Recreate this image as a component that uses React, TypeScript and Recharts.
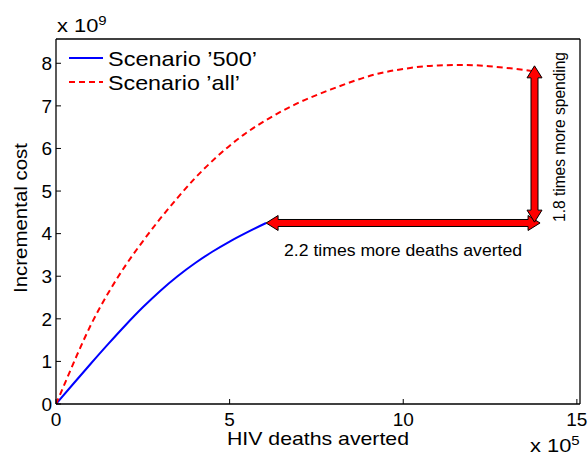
import { LineChart, Line, XAxis, YAxis, Legend, ReferenceLine } from "recharts";

// HIV deaths averted (x 10^5) vs incremental cost (x 10^9)
const x500 = [0, 0.5, 1.0, 1.5, 2.0, 2.5, 3.0, 3.5, 4.0, 4.5, 5.0, 5.5, 6.05];
const cost500 = [0, 0.475, 0.945, 1.405, 1.85, 2.27, 2.655, 3.0, 3.305, 3.575, 3.815, 4.03, 4.25];

const xAll = [0, 0.3, 0.6, 1.0, 1.5, 2.0, 2.5, 3.0, 3.5, 4.0, 4.6, 5.4, 6.1, 6.9, 7.9, 9.3, 10.2, 11.0, 11.8, 12.6, 13.7];
const costAll = [0, 0.57, 1.14, 1.85, 2.6, 3.25, 3.82, 4.35, 4.84, 5.3, 5.78, 6.32, 6.69, 7.04, 7.38, 7.76, 7.89, 7.95, 7.96, 7.92, 7.82];

const xTicks = [0, 5, 10, 15];
const yTicks = [0, 1, 2, 3, 4, 5, 6, 7, 8];

// annotation arrows
const hArrow = { y: 4.25, from: 6.05, to: 13.94, text: "2.2 times more deaths averted" };
const vArrow = { x: 13.78, from: 4.27, to: 7.94, text: "1.8 times more spending" };

const data500 = x500.map((x, i) => ({ x, y: cost500[i] }));
const dataAll = xAll.map((x, i) => ({ x, y: costAll[i] }));

const series = [
  { key: "s500", name: "Scenario \u2019500\u2019", color: "#0000ff", dash: undefined, width: 2, data: data500, textLen: 149 },
  { key: "sall", name: "Scenario \u2019all\u2019", color: "#ff0000", dash: "6 4", width: 2, data: dataAll, textLen: 132 },
];

const FONT = "'Liberation Sans', Arial, Helvetica, sans-serif";
const X_DOMAIN: [number, number] = [0, 15.09];
const Y_DOMAIN: [number, number] = [0, 8.57];

const arrowPolygon = (x1: number, y1: number, x2: number, y2: number) => {
  const len = Math.hypot(x2 - x1, y2 - y1);
  const ang = (Math.atan2(y2 - y1, x2 - x1) * 180) / Math.PI;
  const h = 12, s = 3.5, w = 7.5;
  const pts = [
    [0, 0], [h, -w], [h, -s], [len - h, -s], [len - h, -w],
    [len, 0], [len - h, w], [len - h, s], [h, s], [h, w],
  ];
  return (
    <polygon
      points={pts.map(p => p.join(",")).join(" ")}
      transform={`translate(${x1},${y1}) rotate(${ang})`}
      fill="#ff0000"
      stroke="#000"
      strokeWidth={1}
    />
  );
};

const HArrowShape = (props: any) => {
  const { x1, y1, x2, y2 } = props;
  return (
    <g>
      {arrowPolygon(x1, y1, x2, y2)}
      <text x={(x1 + x2) / 2} y={y1 + 33} textAnchor="middle" fontSize={16} fontFamily={FONT} fill="#000"
        textLength={238} lengthAdjust="spacingAndGlyphs">
        {hArrow.text}
      </text>
    </g>
  );
};

const VArrowShape = (props: any) => {
  const { x1, y1, x2, y2 } = props;
  const tx = x1 + 30;
  const ty = (y1 + y2) / 2 - 7;
  return (
    <g>
      {arrowPolygon(x1, y1, x2, y2)}
      <text x={tx} y={ty} transform={`rotate(-90 ${tx} ${ty})`} textAnchor="middle" fontSize={16} fontFamily={FONT} fill="#000"
        textLength={170} lengthAdjust="spacingAndGlyphs">
        {vArrow.text}
      </text>
    </g>
  );
};

const LegendBox = () => (
  <svg width={240} height={52} style={{ display: "block" }}>
    {series.map((s, i) => (
      <g key={s.key} transform={`translate(0, ${i * 24})`}>
        <line x1={0} x2={34} y1={13} y2={13} stroke={s.color} strokeWidth={2} strokeDasharray={s.dash} />
        <text x={39} y={21} fontSize={21} fontFamily={FONT} fill="#000" textLength={s.textLen} lengthAdjust="spacingAndGlyphs">
          {s.name}
        </text>
      </g>
    ))}
  </svg>
);

const axisLine = { stroke: "#000", strokeWidth: 1.3 };
const tickLine = { stroke: "#000", strokeWidth: 1 };

export default function App() {
  return (
    <div style={{ position: "absolute", left: 0, top: 0, width: 588, height: 455, background: "#fff", fontFamily: FONT }}>
      <LineChart width={588} height={455} margin={{ top: 38, right: 7, bottom: 0, left: 0 }}>
        <XAxis
          type="number"
          dataKey="x"
          domain={X_DOMAIN}
          ticks={xTicks}
          allowDataOverflow
          height={51}
          axisLine={axisLine}
          tickLine={tickLine}
          tickSize={-5}
          tickMargin={14}
          tick={{ fill: "#000", fontSize: 19, fontFamily: FONT }}
          label={{
            content: () => (
              <text x={318} y={445} textAnchor="middle" fontSize={19} fontFamily={FONT} fill="#000"
                textLength={182} lengthAdjust="spacingAndGlyphs">
                HIV deaths averted
              </text>
            ),
          }}
        />
        <XAxis xAxisId="top" orientation="top" type="number" dataKey="x" domain={X_DOMAIN} ticks={xTicks}
          allowDataOverflow height={1} axisLine={axisLine} tickLine={tickLine} tickSize={-5} tick={false} />
        <YAxis
          type="number"
          domain={Y_DOMAIN}
          ticks={yTicks}
          allowDataOverflow
          width={56}
          axisLine={axisLine}
          tickLine={tickLine}
          tickSize={-5}
          tickMargin={9}
          tick={{ fill: "#000", fontSize: 19, fontFamily: FONT }}
          label={{
            content: () => (
              <text x={27} y={218} transform="rotate(-90 27 218)" textAnchor="middle" fontSize={19} fontFamily={FONT} fill="#000"
                textLength={150} lengthAdjust="spacingAndGlyphs">
                Incremental cost
              </text>
            ),
          }}
        />
        <YAxis yAxisId="right" orientation="right" type="number" domain={Y_DOMAIN} ticks={yTicks}
          allowDataOverflow width={1} axisLine={axisLine} tickLine={tickLine} tickSize={-5} tick={false} />

        {series.map(s => (
          <Line
            key={s.key}
            data={s.data}
            dataKey="y"
            name={s.name}
            type="monotone"
            stroke={s.color}
            strokeWidth={s.width}
            strokeDasharray={s.dash}
            dot={false}
            activeDot={false}
            isAnimationActive={false}
          />
        ))}

        <ReferenceLine
          segment={[{ x: hArrow.from, y: hArrow.y }, { x: hArrow.to, y: hArrow.y }]}
          shape={HArrowShape}
          ifOverflow="visible"
        />
        <ReferenceLine
          segment={[{ x: vArrow.x, y: vArrow.from }, { x: vArrow.x, y: vArrow.to }]}
          shape={VArrowShape}
          ifOverflow="visible"
        />

        <Legend
          layout="horizontal"
          verticalAlign="middle"
          align="center"
          wrapperStyle={{ left: 69, top: 45, width: 240, height: 52 }}
          content={() => <LegendBox />}
        />
      </LineChart>

      <div style={{ position: "absolute", left: 57, top: 11, fontSize: 19, lineHeight: "19px", whiteSpace: "nowrap",
        transform: "scaleX(1.15)", transformOrigin: "left top" }}>
        x 10<sup style={{ fontSize: 13, verticalAlign: "7px" }}>9</sup>
      </div>
      <div style={{ position: "absolute", left: 530, top: 431, fontSize: 19, lineHeight: "19px", whiteSpace: "nowrap",
        transform: "scaleX(1.15)", transformOrigin: "left top" }}>
        x 10<sup style={{ fontSize: 13, verticalAlign: "7px" }}>5</sup>
      </div>
    </div>
  );
}
